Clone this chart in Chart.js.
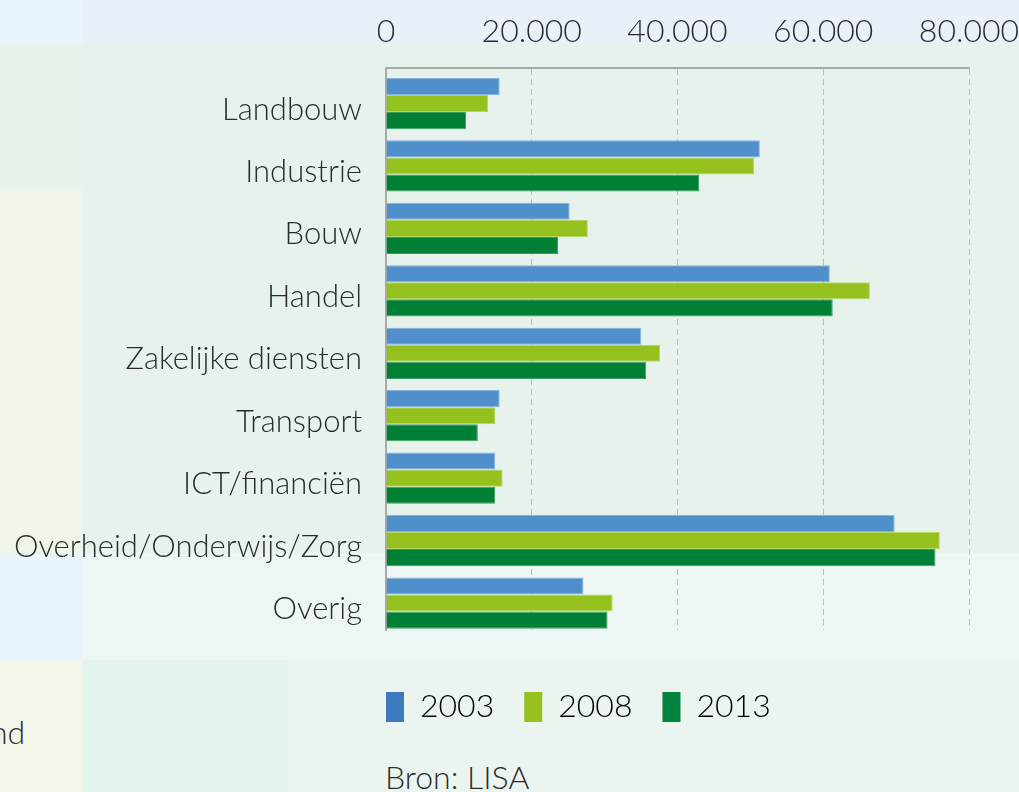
<!DOCTYPE html>
<html>
<head>
<meta charset="utf-8">
<script src="https://cdn.jsdelivr.net/npm/chart.js@4/dist/chart.umd.min.js"></script>
<style>
  html, body { margin:0; padding:0; }
  body { width:1019px; height:792px; position:relative; overflow:hidden; background:#e9f2ed; font-family:'Lato', sans-serif; }
  .bg { position:absolute; }
  #wrap { position:absolute; left:0; top:0; width:1019px; height:792px; }
  .txt { position:absolute; color:#2b2b2b; font-family:'Lato', sans-serif; font-weight:300; white-space:nowrap; }
</style>
</head>
<body>
<div class="bg" style="left:0;top:0;width:1019px;height:43px;background:#e9f0f7"></div>
<div class="bg" style="left:0;top:0;width:82px;height:43px;background:#e6f4fb"></div>
<div class="bg" style="left:0;top:43px;width:82px;height:147px;background:#e8f3ea"></div>
<div class="bg" style="left:0;top:190px;width:82px;height:363px;background:#eff6e9"></div>
<div class="bg" style="left:82px;top:43px;width:937px;height:510px;background:#e8f2ec"></div>
<div class="bg" style="left:0;top:553px;width:82px;height:107px;background:#e7f4fb"></div>
<div class="bg" style="left:82px;top:553px;width:937px;height:107px;background:#eef6f4"></div>
<div class="bg" style="left:0;top:660px;width:82px;height:132px;background:#f1f6e9"></div>
<div class="bg" style="left:82px;top:660px;width:206px;height:132px;background:#e3f3ed"></div>
<div class="bg" style="left:288px;top:660px;width:731px;height:132px;background:#ecf4ef"></div>
<div class="txt" style="left:-10px;top:712px;font-size:32px;">nd</div>
<div class="txt" style="left:385px;top:757px;font-size:32px;">Bron: LISA</div>
<div id="wrap"><canvas id="c" width="1019" height="792"></canvas></div>
<script>
const categories = ['Landbouw','Industrie','Bouw','Handel','Zakelijke diensten','Transport','ICT/financiën','Overheid/Onderwijs/Zorg','Overig'];
const seriesNames = ['2003','2008','2013'];
const values2003 = [15600, 51300, 25200, 60900, 35000, 15600, 15000, 69800, 27100];
const values2008 = [14000, 50500, 27700, 66400, 37600, 15000, 16000, 76000, 31100];
const values2013 = [11000, 43000, 23600, 61300, 35700, 12600, 15000, 75400, 30400];
const tickLabels = ['0','20.000','40.000','60.000','80.000'];
const barColors = ['#4f8fcc','#95c11f','#008035'];
const barEdges = ['#86b4e0','#b6d663','#3f9a66'];
const legendColors = ['#3d79bd','#95c11f','#00843d'];

const FONT = 'Lato';
const toPoints = (arr) => arr.map((v, i) => ({ x: v, y: i }));

const legendMover = {
  id: 'legendMover',
  afterLayout(chart) {
    const lg = chart.legend;
    const pad = lg.options.labels.padding;
    const w = lg.right - lg.left, h = lg.bottom - lg.top;
    lg.left = chart.chartArea.left - pad;
    lg.right = lg.left + w;
    lg.top = 692 - pad - 1;
    lg.bottom = lg.top + h;
  }
};

new Chart(document.getElementById('c'), {
  type: 'bar',
  data: {
    datasets: [
      { label: seriesNames[0], data: toPoints(values2003), backgroundColor: barColors[0], borderColor: barEdges[0], borderWidth: 1 },
      { label: seriesNames[1], data: toPoints(values2008), backgroundColor: barColors[1], borderColor: barEdges[1], borderWidth: 1 },
      { label: seriesNames[2], data: toPoints(values2013), backgroundColor: barColors[2], borderColor: barEdges[2], borderWidth: 1 }
    ]
  },
  options: {
    indexAxis: 'y',
    responsive: false,
    animation: false,
    devicePixelRatio: 1,
    categoryPercentage: 0.82,
    barPercentage: 1.0,
    layout: { padding: { left: 0, right: 0, top: 0, bottom: 90 } },
    plugins: {
      tooltip: { enabled: false },
      legend: {
        position: 'bottom',
        align: 'start',
        labels: {
          boxWidth: 18,
          boxHeight: 30,
          padding: 30,
          color: '#2b2b2b',
          font: { family: FONT, size: 32, weight: 300 },
          generateLabels(chart) {
            return chart.data.datasets.map((ds, i) => ({
              text: ds.label, fillStyle: legendColors[i], strokeStyle: legendColors[i],
              lineWidth: 0, hidden: false, datasetIndex: i
            }));
          }
        }
      }
    },
    scales: {
      x: {
        type: 'linear',
        position: 'top',
        min: 0, max: 80000,
        afterFit(s) { s.height = 68; s.paddingLeft = 0; s.paddingRight = 50; },
        ticks: {
          stepSize: 20000,
          padding: 17,
          color: '#2b2b2b',
          font: { family: FONT, size: 32, weight: 300 },
          callback: (v) => tickLabels[Math.round(v / 20000)]
        },
        grid: { color: '#bdbdbd', lineWidth: 1, drawTicks: false },
        border: { display: true, color: '#a9a9a9', width: 2, dash: [6, 4] }
      },
      y: {
        type: 'linear',
        reverse: true,
        offset: false,
        bounds: 'data',
        min: -0.569,
        max: 8.432,
        afterFit(s) { s.width = 386; },
        afterBuildTicks(s) {
          s.ticks = categories.map((_, i) => ({ value: i }));
        },
        ticks: {
          autoSkip: false,
          padding: 24,
          labelOffset: 6,
          color: '#2b2b2b',
          font: { family: FONT, size: 31, weight: 300 },
          callback: (v) => categories[Math.round(v)]
        },
        grid: { display: false, drawTicks: false },
        border: { display: true, color: '#a9a9a9', width: 2 }
      }
    }
  },
  plugins: [legendMover]
});
</script>
</body>
</html>
